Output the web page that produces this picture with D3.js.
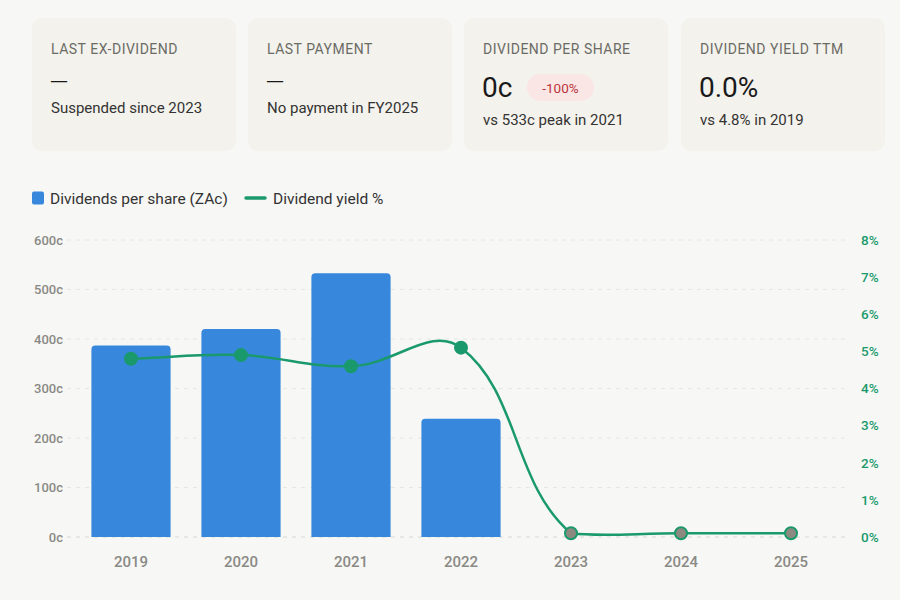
<!DOCTYPE html>
<html>
<head>
<meta charset="utf-8">
<script src="https://cdn.jsdelivr.net/npm/d3@7/dist/d3.min.js"></script>
<style>
  body { margin: 0; background: #f7f7f5; font-family: Roboto, 'Noto Sans', sans-serif; }
  svg { display: block; }
</style>
</head>
<body>
<svg id="chart" width="900" height="600"></svg>
<script>
// Data
const years = ['2019', '2020', '2021', '2022', '2023', '2024', '2025']
const dividends = [387, 420, 533, 239, 0, 0, 0] // ZA cents per share
const yieldPct = [4.8, 4.9, 4.6, 5.1, 0.1, 0.1, 0.1]
const leftTicks = [0, 100, 200, 300, 400, 500, 600]
const rightTicks = [0, 1, 2, 3, 4, 5, 6, 7, 8]

const cardTitles = ['LAST EX-DIVIDEND', 'LAST PAYMENT', 'DIVIDEND PER SHARE', 'DIVIDEND YIELD TTM']
const cardValues = ['—', '—', '0c', '0.0%']
const cardNotes = ['Suspended since 2023', 'No payment in FY2025', 'vs 533c peak in 2021', 'vs 4.8% in 2019']
const badgeText = '-100%'

const blue = '#3788dd'
const green = '#1a9a6c'

const svg = d3.select('#chart')

// Stat cards across the top
const cardX = [32, 248, 464, 681]
const cardW = 204
const cards = svg.selectAll('.card')
  .data(cardTitles)
  .enter()
  .append('g')
  .attr('class', 'card')
  .attr('transform', (d, i) => `translate(${cardX[i]}, 18)`)

cards.append('rect')
  .attr('width', cardW)
  .attr('height', 133)
  .attr('rx', 10)
  .attr('fill', '#f3f2ec')

cards.append('text')
  .attr('x', 19)
  .attr('y', 36)
  .attr('font-size', 14)
  .attr('letter-spacing', 0.5)
  .attr('fill', '#6b6b66')
  .text((d) => d)

// dash placeholder uses DejaVu so the em dash is a full em wide
cards.append('text')
  .attr('x', 18)
  .attr('y', (d, i) => i < 2 ? 68 : 79)
  .attr('font-family', (d, i) => i < 2 ? "'DejaVu Sans', sans-serif" : null)
  .attr('font-size', (d, i) => i < 2 ? 18 : 28)
  .attr('fill', '#1a1a1a')
  .text((d, i) => cardValues[i])

cards.append('text')
  .attr('x', 19)
  .attr('y', (d, i) => i < 2 ? 95 : 107)
  .attr('font-size', 15)
  .attr('fill', '#333')
  .text((d, i) => cardNotes[i])

// badge on the dividend per share card
const badge = svg.append('g').attr('transform', 'translate(527, 74)')
badge.append('rect')
  .attr('width', 67)
  .attr('height', 27)
  .attr('rx', 13.5)
  .attr('fill', '#fbe6e6')
badge.append('text')
  .attr('x', 33.5)
  .attr('y', 19)
  .attr('text-anchor', 'middle')
  .attr('font-size', 13.5)
  .attr('fill', '#bb343a')
  .text(badgeText)

// Legend
const legend = svg.append('g').attr('transform', 'translate(32, 198)')
legend.append('rect')
  .attr('x', 0).attr('y', -6.5)
  .attr('width', 12).attr('height', 13)
  .attr('rx', 2)
  .attr('fill', blue)
legend.append('text')
  .attr('x', 18).attr('y', 5.5)
  .attr('font-size', 15.5)
  .attr('fill', '#333')
  .text('Dividends per share (ZAc)')
legend.append('line')
  .attr('x1', 214).attr('x2', 233)
  .attr('y1', 0).attr('y2', 0)
  .attr('stroke', green)
  .attr('stroke-width', 3.5)
  .attr('stroke-linecap', 'round')
legend.append('text')
  .attr('x', 241).attr('y', 5.5)
  .attr('font-size', 15.5)
  .attr('fill', '#333')
  .text('Dividend yield %')

// Scales
const x = d3.scaleBand()
  .domain(years)
  .range([76, 846])
  .paddingInner(0.28)
  .paddingOuter(0.14)

const yLeft = d3.scaleLinear().domain([0, 600]).range([537, 240])
const yRight = d3.scaleLinear().domain([0, 8]).range([537, 240])

// Grid lines
svg.append('g')
  .selectAll('line')
  .data(leftTicks)
  .enter()
  .append('line')
  .attr('x1', 67)
  .attr('x2', 848)
  .attr('y1', (d) => yLeft(d))
  .attr('y2', (d) => yLeft(d))
  .attr('stroke', (d) => d === 0 ? '#d6d6d2' : '#e6e6e2')
  .attr('stroke-dasharray', '4,5')

// Left axis
svg.append('g')
  .attr('transform', 'translate(67, 0)')
  .call(d3.axisLeft(yLeft).tickValues(leftTicks).tickSize(0).tickPadding(4).tickFormat((d) => d + 'c'))
  .call((g) => g.select('.domain').remove())
  .selectAll('text')
  .attr('font-family', 'Roboto, sans-serif')
  .attr('font-size', 13)
  .attr('font-weight', 500)
  .attr('fill', '#8a8a85')

// Right axis
svg.append('g')
  .attr('transform', 'translate(861, 0)')
  .call(d3.axisRight(yRight).tickValues(rightTicks).tickSize(0).tickPadding(0).tickFormat((d) => d + '%'))
  .call((g) => g.select('.domain').remove())
  .selectAll('text')
  .attr('font-family', 'Roboto, sans-serif')
  .attr('font-size', 13.5)
  .attr('font-weight', 500)
  .attr('fill', green)

// Bottom axis
svg.append('g')
  .attr('transform', 'translate(0, 537)')
  .call(d3.axisBottom(x).tickSize(0).tickPadding(19))
  .call((g) => g.select('.domain').remove())
  .selectAll('text')
  .attr('font-family', 'Roboto, sans-serif')
  .attr('font-size', 15)
  .attr('font-weight', 500)
  .attr('fill', '#8a8a85')

// Bars with rounded tops
const barPath = (d, i) => {
  const x0 = x(years[i])
  const w = x.bandwidth()
  const y0 = yLeft(0)
  const y1 = yLeft(d)
  const r = Math.min(4, (y0 - y1) / 2)
  return `M${x0},${y0} V${y1 + r} Q${x0},${y1} ${x0 + r},${y1} H${x0 + w - r} Q${x0 + w},${y1} ${x0 + w},${y1 + r} V${y0} Z`
}

svg.append('g')
  .selectAll('path')
  .data(dividends.map((d, i) => ({ d, i })).filter((o) => o.d > 0))
  .enter()
  .append('path')
  .attr('d', (o) => barPath(o.d, o.i))
  .attr('fill', blue)

// Yield line: tension spline with control points capped to the plot area
const pts = yieldPct.map((d, i) => [x(years[i]) + x.bandwidth() / 2, yRight(d)])
const tension = 0.4
const clampY = (v) => Math.max(240, Math.min(537, v))
const cps = pts.map((p, i) => {
  const prev = pts[i - 1] || p
  const next = pts[i + 1] || p
  const d01 = Math.hypot(p[0] - prev[0], p[1] - prev[1])
  const d12 = Math.hypot(next[0] - p[0], next[1] - p[1])
  const s01 = d01 + d12 === 0 ? 0 : d01 / (d01 + d12)
  const s12 = d01 + d12 === 0 ? 0 : d12 / (d01 + d12)
  const dx = next[0] - prev[0]
  const dy = next[1] - prev[1]
  return {
    before: [p[0] - tension * s01 * dx, clampY(p[1] - tension * s01 * dy)],
    after: [p[0] + tension * s12 * dx, clampY(p[1] + tension * s12 * dy)]
  }
})
const linePath = d3.path()
linePath.moveTo(pts[0][0], pts[0][1])
for (let i = 1; i < pts.length; i++) {
  const a = cps[i - 1].after
  const b = cps[i].before
  linePath.bezierCurveTo(a[0], a[1], b[0], b[1], pts[i][0], pts[i][1])
}

svg.append('path')
  .attr('d', linePath.toString())
  .attr('fill', 'none')
  .attr('stroke', green)
  .attr('stroke-width', 2.5)

svg.append('g')
  .selectAll('circle')
  .data(yieldPct)
  .enter()
  .append('circle')
  .attr('cx', (d, i) => pts[i][0])
  .attr('cy', (d, i) => pts[i][1])
  .attr('r', 6)
  .attr('fill', (d, i) => dividends[i] > 0 ? green : '#8c8a80')
  .attr('stroke', green)
  .attr('stroke-width', 2)
</script>
</body>
</html>
